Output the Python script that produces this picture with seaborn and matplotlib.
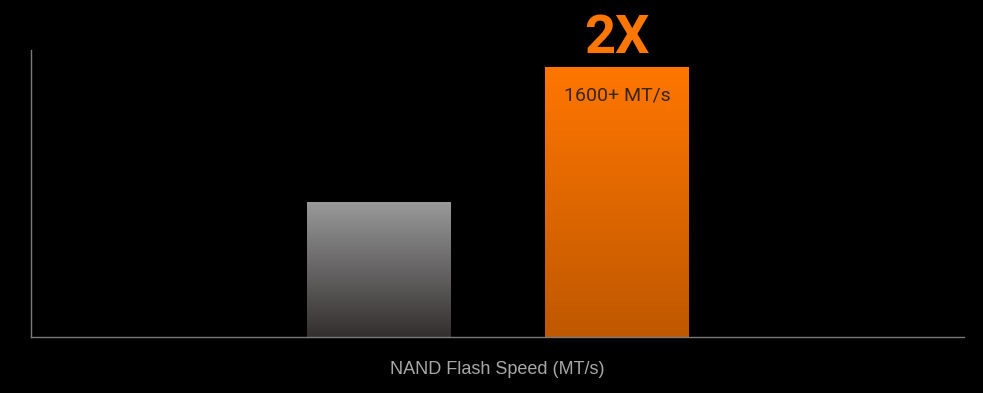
import numpy as np
import pandas as pd
import matplotlib
matplotlib.use("Agg")
import matplotlib.pyplot as plt
import seaborn as sns
from matplotlib.colors import LinearSegmentedColormap

categories = ["Previous Gen", "New Gen"]
speeds = [800, 1600]
value_labels = ["", "1600+ MT/s"]
headline = "2X"
xlabel = "NAND Flash Speed (MT/s)"

sns.set_theme(style="dark")
plt.rcParams["font.family"] = ["Liberation Sans", "DejaVu Sans"]

fig = plt.figure(figsize=(9.83, 3.93), dpi=100, facecolor="black")
ax = fig.add_axes([31/983, (393-337)/393, (964-31)/983, (337-50)/393])
ax.set_facecolor("black")

df = pd.DataFrame({"cat": categories, "speed": speeds})
sns.barplot(data=df, x="cat", y="speed", ax=ax, width=144/238, color="grey",
            saturation=1, linewidth=0)

grads = [("#9a9a9a", "#332f2f"), ("#ff7600", "#bf5800")]
for patch, (top, bot) in zip(ax.patches, grads):
    x0, y0 = patch.get_x(), patch.get_y()
    w, h = patch.get_width(), patch.get_height()
    cmap = LinearSegmentedColormap.from_list("g", [bot, top])
    grad = np.linspace(0, 1, 256).reshape(-1, 1)
    im = ax.imshow(grad, cmap=cmap, aspect="auto", origin="lower",
                   extent=[x0, x0 + w, y0, y0 + h], zorder=2)
    im.set_clip_path(patch)
    patch.set_facecolor("none")

ax.set_xlim(-348/238, 585/238)
ax.set_ylim(0, 1700)

for i, (v, lab) in enumerate(zip(speeds, value_labels)):
    if lab:
        ax.text(i, v - 172, lab, ha="center", va="center", fontsize=14,
                color="#3a2614", family=["Roboto", "Liberation Sans"],
                zorder=3)
ax.text(1, 1771, headline, ha="center", va="center", fontsize=39,
        fontweight="bold", color="#ff7600",
        family=["Roboto", "Liberation Sans"], clip_on=False, zorder=3)

ax.set_xticks([])
ax.set_yticks([])
ax.set_xlabel("")
ax.set_ylabel("")
for s in ["top", "right"]:
    ax.spines[s].set_visible(False)
for s in ["left", "bottom"]:
    ax.spines[s].set_visible(True)
    ax.spines[s].set_color("#7a7a7a")
    ax.spines[s].set_linewidth(1)

fig.text(497/983, 1 - 369/393, xlabel, ha="center", va="center",
         fontsize=13, color="#a8a8a8")

fig.savefig("out.png", dpi=100, facecolor="black")
